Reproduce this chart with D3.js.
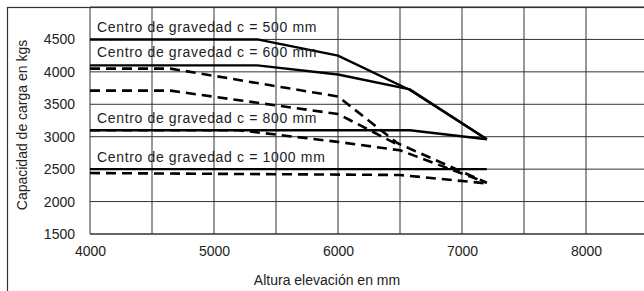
<!DOCTYPE html>
<html>
<head>
<meta charset="utf-8">
<script src="https://cdnjs.cloudflare.com/ajax/libs/d3/7.8.5/d3.min.js"></script>
<style>
  body { margin: 0; background: #fff; }
  text { font-family: "Liberation Sans", Arial, sans-serif; fill: #222; }
</style>
</head>
<body>
<div id="canvas"></div>
<script>
// data (x = lift height in mm, y = capacity in kg)
var xTicks = [4000, 5000, 6000, 7000, 8000];
var yTicks = [1500, 2000, 2500, 3000, 3500, 4000, 4500];
var xGrid = [4000, 4500, 5000, 5500, 6000, 6500, 7000, 7500, 8000, 8500];
var yGrid = [1500, 2000, 2500, 3000, 3500, 4000, 4500, 5000];

var solid500 = [[4000, 4500], [5350, 4500], [6000, 4250], [6580, 3720], [7200, 2960]];
var solid600 = [[4000, 4100], [5350, 4100], [6000, 3960], [6580, 3730], [7200, 2960]];
var solid800 = [[4000, 3100], [6580, 3100], [7200, 2960]];
var solid1000 = [[4000, 2500], [7200, 2500]];

var dashA = [[4000, 4050], [4650, 4050], [6000, 3620], [6480, 2900], [7200, 2290]];
var dashB = [[4000, 3710], [4650, 3710], [6000, 3350], [6480, 2880]];
var dashC = [[4000, 3100], [5200, 3100], [6000, 2920], [6500, 2790], [7200, 2290]];
var dashD = [[4000, 2440], [6500, 2410], [7200, 2280]];

var labels = ['Centro de gravedad c = 500 mm', 'Centro de gravedad c = 600 mm',
  'Centro de gravedad c = 800 mm', 'Centro de gravedad c = 1000 mm'];
var labelY = [4620, 4225, 3205, 2615];

var chart = {
  init: function() {
    chart.svg = d3.select('#canvas').append('svg')
      .attr('width', 644)
      .attr('height', 291);

    chart.x = d3.scaleLinear().domain([4000, 8500]).range([90, 648]);
    chart.y = d3.scaleLinear().domain([1500, 5000]).range([234, 7]);

    chart.frame();
    chart.grid();
    chart.curves();
    chart.texts();
  },

  frame: function() {
    // outer box, goes off the bottom/right of the picture
    chart.svg.append('rect')
      .attr('x', 7.5).attr('y', 7.5)
      .attr('width', 660).attr('height', 300)
      .attr('fill', 'none').attr('stroke', '#333').attr('stroke-width', 1.2);
  },

  grid: function() {
    var g = chart.svg.append('g');
    g.selectAll('.vg').data(xGrid).enter().append('line')
      .attr('x1', function(d) { return chart.x(d); })
      .attr('x2', function(d) { return chart.x(d); })
      .attr('y1', chart.y(5000)).attr('y2', chart.y(1500))
      .attr('stroke', '#333').attr('stroke-width', 1);
    g.selectAll('.hg').data(yGrid).enter().append('line')
      .attr('x1', chart.x(4000)).attr('x2', 648)
      .attr('y1', function(d) { return chart.y(d); })
      .attr('y2', function(d) { return chart.y(d); })
      .attr('stroke', '#333').attr('stroke-width', function(d) { return d === 1500 ? 1.5 : 1; });

    var yAxis = d3.axisLeft(chart.y).tickValues(yTicks).tickSize(0).tickPadding(15).tickFormat(d3.format('d'));
    chart.svg.append('g').attr('transform', 'translate(90,0)').call(yAxis)
      .call(function(s) { s.select('.domain').remove(); })
      .selectAll('text').style('font-size', '14px').attr('fill', '#222');

    var xAxis = d3.axisBottom(chart.x).tickValues(xTicks).tickSize(0).tickPadding(12).tickFormat(d3.format('d'));
    chart.svg.append('g').attr('transform', 'translate(0,234)').call(xAxis)
      .call(function(s) { s.select('.domain').remove(); })
      .selectAll('text').style('font-size', '14px').attr('fill', '#222');
  },

  curves: function() {
    var line = d3.line()
      .x(function(d) { return chart.x(d[0]); })
      .y(function(d) { return chart.y(d[1]); });

    [solid500, solid600, solid800, solid1000].forEach(function(s) {
      chart.svg.append('path').attr('d', line(s))
        .attr('fill', 'none').attr('stroke', '#000').attr('stroke-width', 2.4);
    });
    [dashA, dashB, dashC, dashD].forEach(function(s) {
      chart.svg.append('path').attr('d', line(s))
        .attr('fill', 'none').attr('stroke', '#000').attr('stroke-width', 2.6)
        .attr('stroke-dasharray', '10,6');
    });
  },

  texts: function() {
    chart.svg.selectAll('.lbl').data(labels).enter().append('text')
      .attr('x', 97)
      .attr('y', function(d, i) { return chart.y(labelY[i]); })
      .style('font-size', '14px')
      .style('letter-spacing', '0.65px')
      .text(function(d) { return d; });

    chart.svg.append('text')
      .attr('x', 327).attr('y', 285)
      .attr('text-anchor', 'middle')
      .style('font-size', '14px')
      .text('Altura elevación en mm');

    chart.svg.append('text')
      .attr('transform', 'translate(27,125) rotate(-90)')
      .attr('text-anchor', 'middle')
      .style('font-size', '14px')
      .text('Capacidad de carga en kgs');
  }
};

chart.init();
</script>
</body>
</html>
